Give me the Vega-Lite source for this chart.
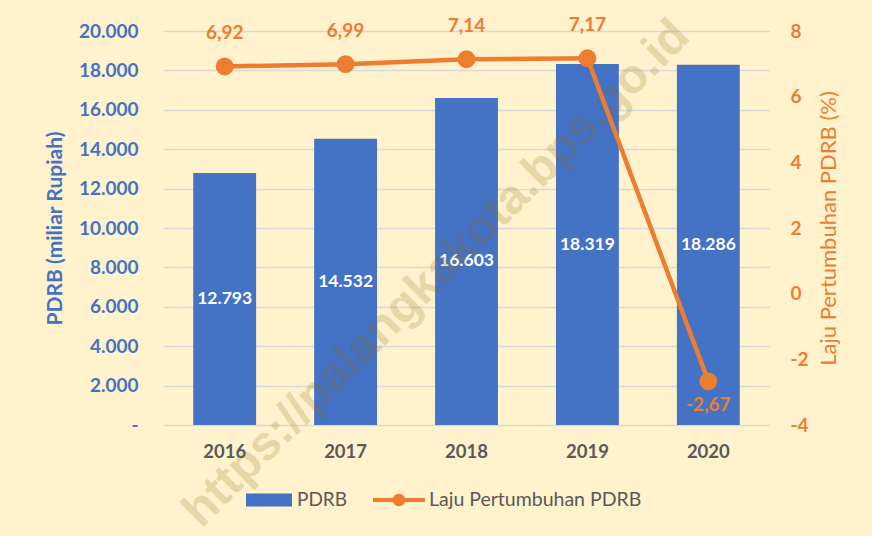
{
  "$schema": "https://vega.github.io/schema/vega-lite/v6.json",
  "width": 607,
  "height": 394,
  "autosize": {"type": "none"},
  "padding": {"left": 163, "top": 31, "right": 102, "bottom": 111},
  "background": "#FFF2CC",
  "data": {
    "values": [
      {"year": "2016", "pdrb": 12793, "growth": 6.92},
      {"year": "2017", "pdrb": 14532, "growth": 6.99},
      {"year": "2018", "pdrb": 16603, "growth": 7.14},
      {"year": "2019", "pdrb": 18319, "growth": 7.17},
      {"year": "2020", "pdrb": 18286, "growth": -2.67}
    ]
  },
  "encoding": {
    "x": {
      "field": "year",
      "type": "nominal",
      "scale": {"paddingInner": 0.48, "paddingOuter": 0.25},
      "axis": {
        "title": null,
        "labelAngle": 0,
        "labelFont": "Lato",
        "labelFontSize": 18.5,
        "labelFontWeight": "bold",
        "labelColor": "#595959",
        "labelPadding": 17,
        "domain": false,
        "ticks": false,
        "grid": false
      }
    }
  },
  "layer": [
    {
      "mark": {"type": "bar"},
      "encoding": {
        "y": {
          "field": "pdrb",
          "type": "quantitative",
          "scale": {"domain": [0, 20000]},
          "axis": {
            "title": "PDRB (miliar Rupiah)",
            "titleFont": "Lato",
            "titleFontSize": 21,
            "titleFontWeight": "bold",
            "titleColor": "#4472C4",
            "titleX": -98,
            "values": [0, 2000, 4000, 6000, 8000, 10000, 12000, 14000, 16000, 18000, 20000],
            "labelOverlap": false,
            "format": ",.0f",
            "labelExpr": "datum.value == 0 ? '-' : datum.label",
            "labelFont": "Lato",
            "labelFontSize": 19,
            "labelFontWeight": "bold",
            "labelColor": "#4472C4",
            "labelPadding": 25,
            "domain": false,
            "ticks": false,
            "grid": true,
            "gridColor": "#D9D9D9",
            "gridWidth": 1.5
          }
        },
        "fill": {
          "datum": "PDRB",
          "type": "nominal",
          "scale": {"range": ["#4472C4"]},
          "legend": {
            "title": null,
            "orient": "none",
            "legendX": 83,
            "legendY": 446,
            "padding": 0,
            "symbolType": "M-1,-0.28H1V0.28H-1Z",
            "symbolSize": 2116,
            "symbolStrokeWidth": 0,
            "labelOffset": 5,
            "labelLimit": 400,
            "labelFont": "Lato",
            "labelFontSize": 19,
            "labelColor": "#595959"
          }
        }
      }
    },
    {
      "mark": {"type": "text", "color": "white", "font": "Lato", "fontSize": 17.5, "fontWeight": "bold", "baseline": "middle"},
      "encoding": {
        "y": {"field": "pdrb", "type": "quantitative", "scale": {"domain": [0, 40000]}, "axis": null},
        "text": {"field": "pdrb", "type": "quantitative", "format": ",.0f"}
      }
    },
    {
      "data": {"values": [{"wm": "https://palangkakota.bps.go.id", "cat": "2018", "pos": 10400}]},
      "mark": {
        "type": "text",
        "font": "Liberation Sans",
        "fontSize": 48,
        "fontWeight": "bold",
        "angle": 315,
        "align": "center",
        "baseline": "middle",
        "color": "#8B6914",
        "opacity": 0.2,
        "dx": -59,
        "dy": 17
      },
      "encoding": {
        "x": {"field": "cat", "type": "nominal"},
        "y": {"field": "pos", "type": "quantitative", "scale": {"domain": [0, 20000]}, "axis": null},
        "text": {"field": "wm", "type": "nominal"}
      }
    },
    {
      "layer": [
        {
          "mark": {"type": "line", "color": "#ED7D31", "strokeWidth": 4.5},
          "encoding": {
            "y": {
              "field": "growth",
              "type": "quantitative",
              "scale": {"domain": [-4, 8]},
              "axis": {
                "orient": "right",
                "title": "Laju Pertumbuhan PDRB (%)",
                "titleFont": "Lato",
                "titleFontSize": 22,
                "titleFontWeight": "normal",
                "titleColor": "#ED7D31",
                "titleAngle": 270,
                "titleX": 70,
                "values": [-4, -2, 0, 2, 4, 6, 8],
                "labelOverlap": false,
                "format": "d",
                "labelFont": "Lato",
                "labelFontSize": 19,
                "labelFontWeight": "bold",
                "labelColor": "#ED7D31",
                "labelPadding": 20,
                "domain": false,
                "ticks": false,
                "grid": false
              }
            },
            "stroke": {
              "datum": "Laju Pertumbuhan PDRB",
              "type": "nominal",
              "scale": {"range": ["#ED7D31"]},
              "legend": {
                "title": null,
                "orient": "none",
                "legendX": 210,
                "legendY": 443,
                "padding": 0,
                "symbolType": "M-1,-0.08H1V0.08H-1Z M0.24,0A0.24,0.24,0,1,1,-0.24,0A0.24,0.24,0,1,1,0.24,0Z",
                "symbolSize": 2704,
                "symbolFillColor": "#ED7D31",
                "symbolStrokeWidth": 0,
                "labelOffset": 4,
                "labelLimit": 400,
                "labelFont": "Lato",
                "labelFontSize": 19.5,
                "labelColor": "#595959",
                "encode": {"symbols": {"update": {"fill": {"value": "#ED7D31"}, "strokeWidth": {"value": 0}}}}
              }
            }
          }
        },
        {
          "mark": {"type": "point", "filled": true, "color": "#ED7D31", "size": 320, "opacity": 1},
          "encoding": {
            "y": {"field": "growth", "type": "quantitative"}
          }
        },
        {
          "transform": [{"filter": "datum.growth >= 0"}],
          "mark": {"type": "text", "color": "#ED7D31", "font": "Lato", "fontSize": 19, "fontWeight": "bold", "baseline": "middle", "dy": -33},
          "encoding": {
            "y": {"field": "growth", "type": "quantitative"},
            "text": {"field": "growth", "type": "quantitative", "format": ".2f"}
          }
        },
        {
          "transform": [{"filter": "datum.growth < 0"}],
          "mark": {"type": "text", "color": "#ED7D31", "font": "Lato", "fontSize": 19, "fontWeight": "bold", "baseline": "middle", "dy": 24},
          "encoding": {
            "y": {"field": "growth", "type": "quantitative"},
            "text": {"field": "growth", "type": "quantitative", "format": ".2f"}
          }
        }
      ]
    }
  ],
  "resolve": {"scale": {"y": "independent"}},
  "config": {
    "view": {"stroke": null},
    "locale": {
      "number": {"decimal": ",", "thousands": ".", "grouping": [3], "currency": ["Rp", ""], "minus": "-"}
    }
  }
}
